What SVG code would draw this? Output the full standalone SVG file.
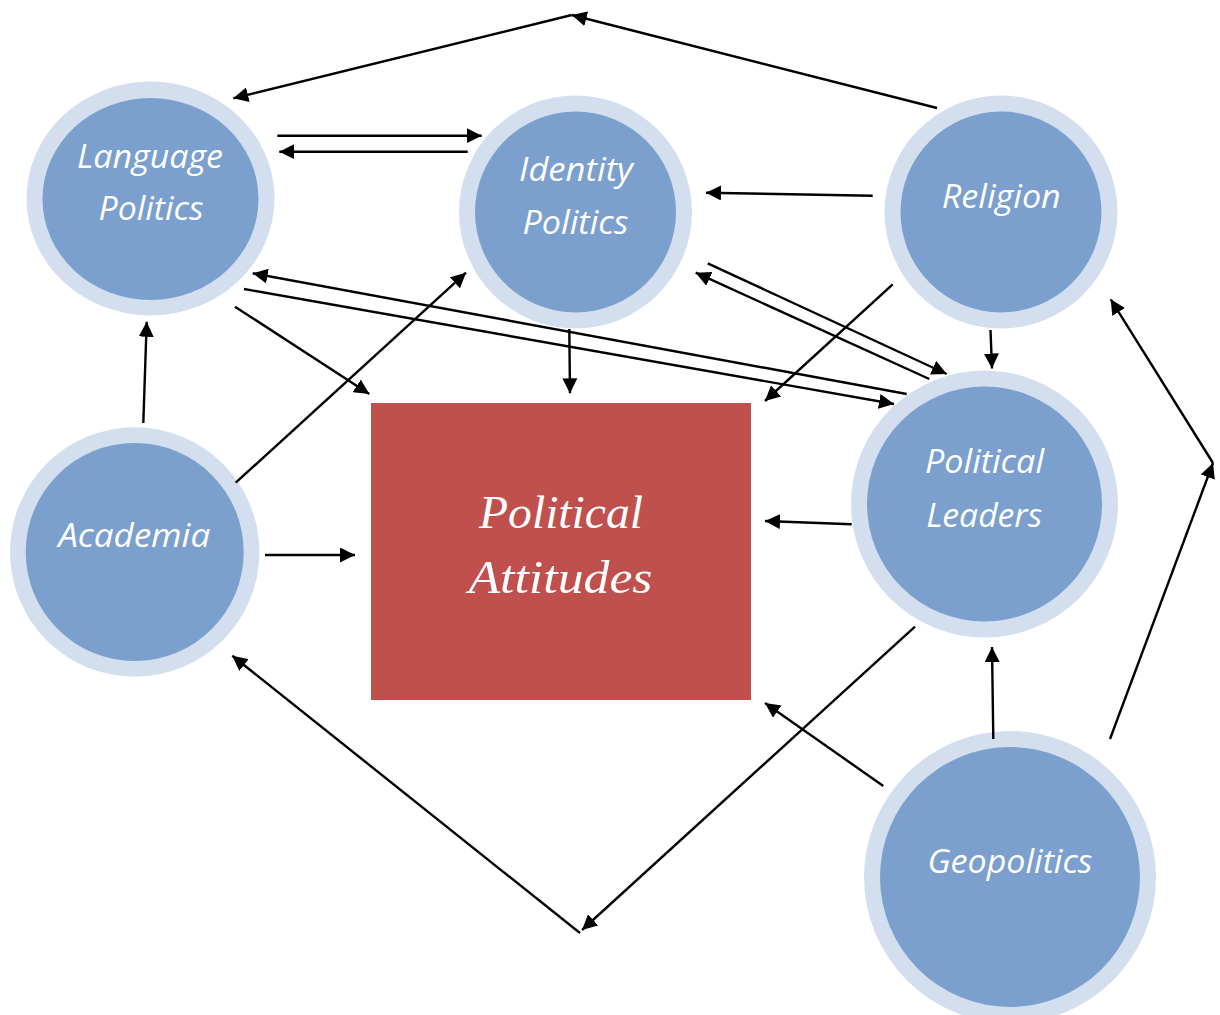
<svg xmlns="http://www.w3.org/2000/svg" width="1220" height="1015" viewBox="0 0 1220 1015">
<style>
.outer{fill:#D3DFEE}
.inner{fill:#7BA0CD}
.lbl{font-family:"Open Sans","Noto Sans","DejaVu Sans",sans-serif;font-style:italic;font-size:32px;fill:#FFFFFF;text-anchor:middle}
.big{font-family:"Liberation Serif","DejaVu Serif",serif;font-style:italic;font-size:46px;fill:#FFFFFF;text-anchor:middle}
.c line{stroke:#000;stroke-width:2.4;fill:none;marker-end:url(#ah)}
</style>
<defs>
<marker id="ah" viewBox="0 0 15 15" refX="15" refY="7.5" markerWidth="15" markerHeight="15" markerUnits="userSpaceOnUse" orient="auto">
<path d="M0,0 L15,7.5 L0,15 z" fill="#000"/>
</marker>
</defs>
<rect width="1220" height="1015" fill="#FFFFFF"/>

<g id="political-attitudes">
<rect x="371" y="403" width="380" height="297" fill="#C0504D"/>
<text class="big" x="561" y="528" textLength="164" lengthAdjust="spacingAndGlyphs">Political</text>
<text class="big" x="560.5" y="593" textLength="184" lengthAdjust="spacingAndGlyphs">Attitudes</text>
</g>

<g id="language-politics">
<ellipse class="outer" cx="150.5" cy="198.5" rx="124" ry="117"/>
<ellipse class="inner" cx="150.5" cy="199" rx="108" ry="101"/>
<text class="lbl" x="150" y="168" textLength="146" lengthAdjust="spacingAndGlyphs">Language</text>
<text class="lbl" x="151" y="220" textLength="105" lengthAdjust="spacingAndGlyphs">Politics</text>
</g>

<g id="identity-politics">
<circle class="outer" cx="575.5" cy="212" r="116.5"/>
<circle class="inner" cx="575.5" cy="212" r="100.5"/>
<text class="lbl" x="576" y="181" textLength="114" lengthAdjust="spacingAndGlyphs">Identity</text>
<text class="lbl" x="575.5" y="233.5" textLength="106" lengthAdjust="spacingAndGlyphs">Politics</text>
</g>

<g id="religion">
<circle class="outer" cx="1001" cy="212" r="116.5"/>
<circle class="inner" cx="1001" cy="212" r="100.5"/>
<text class="lbl" x="1001.3" y="208.3" textLength="119" lengthAdjust="spacingAndGlyphs">Religion</text>
</g>

<g id="political-leaders">
<circle class="outer" cx="984.5" cy="504" r="133.5"/>
<circle class="inner" cx="984.5" cy="504" r="117.5"/>
<text class="lbl" x="984.5" y="473.3" textLength="119" lengthAdjust="spacingAndGlyphs">Political</text>
<text class="lbl" x="984.2" y="526.7" textLength="116" lengthAdjust="spacingAndGlyphs">Leaders</text>
</g>

<g id="academia">
<circle class="outer" cx="134.7" cy="552" r="124.7"/>
<circle class="inner" cx="134.7" cy="552" r="109"/>
<text class="lbl" x="134.2" y="547.3" textLength="152" lengthAdjust="spacingAndGlyphs">Academia</text>
</g>

<g id="geopolitics">
<circle class="outer" cx="1010" cy="877" r="146"/>
<circle class="inner" cx="1010" cy="877" r="130"/>
<text class="lbl" x="1010" y="873.3" textLength="165" lengthAdjust="spacingAndGlyphs">Geopolitics</text>
</g>

<g id="connectors" class="c">
<line x1="937" y1="108" x2="571.7" y2="15"/>
<line x1="571.7" y1="15" x2="233.3" y2="98.3"/>
<line x1="277.3" y1="135.7" x2="481.7" y2="135.7"/>
<line x1="467.7" y1="151.7" x2="279.3" y2="151.7"/>
<line x1="872.7" y1="195.7" x2="706" y2="192.7"/>
<line x1="569.3" y1="329" x2="570" y2="393.3"/>
<line x1="235" y1="306.7" x2="369.3" y2="394"/>
<line x1="906.7" y1="394" x2="252.7" y2="273.3"/>
<line x1="244" y1="289" x2="894" y2="404"/>
<line x1="707.7" y1="263.3" x2="946.7" y2="374"/>
<line x1="929.3" y1="379" x2="695.7" y2="272.7"/>
<line x1="892.7" y1="284.3" x2="765" y2="401"/>
<line x1="990.5" y1="330" x2="992" y2="368.5"/>
<line x1="143.3" y1="423" x2="146.7" y2="321.7"/>
<line x1="235.7" y1="482.7" x2="466" y2="272.7"/>
<line x1="265" y1="555" x2="355" y2="555"/>
<line x1="851.7" y1="524.3" x2="765" y2="521"/>
<line x1="915" y1="626.7" x2="582" y2="930"/>
<line x1="580" y1="933" x2="232.3" y2="655.7"/>
<line x1="883.3" y1="786" x2="765" y2="703"/>
<line x1="993.3" y1="739" x2="992" y2="647"/>
<line x1="1110" y1="739" x2="1213" y2="463"/>
<line x1="1213" y1="463" x2="1110.7" y2="299.3"/>
</g>
</svg>
